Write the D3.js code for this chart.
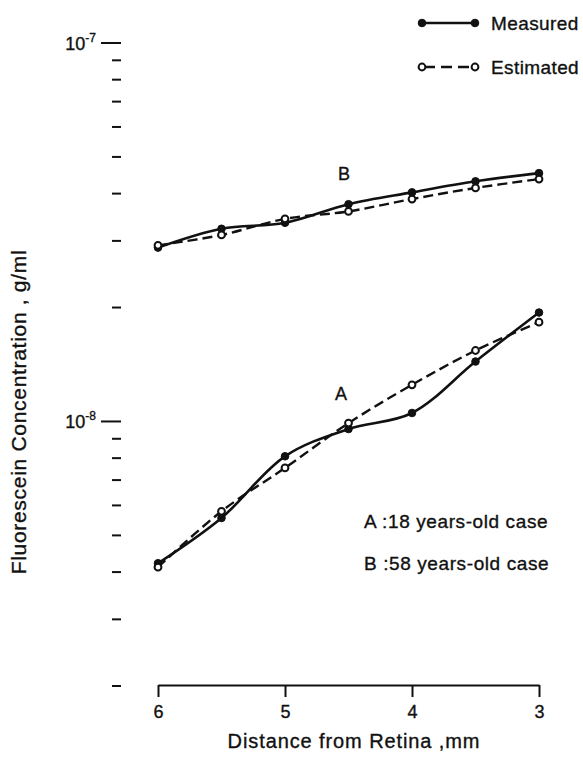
<!DOCTYPE html>
<html>
<head>
<meta charset="utf-8">
<script src="https://cdn.jsdelivr.net/npm/d3@7"></script>
<style>
  body { margin: 0; background: #fff; }
  text { font-family: "Liberation Sans", Arial, Helvetica, sans-serif; fill: #111; stroke: #111; stroke-width: 0.35px; }
</style>
</head>
<body>
<script>
// distance from retina (mm)
var distances = [6, 5.5, 5, 4.5, 4, 3.5, 3];

// case A : 18 years-old
var measuredA = [4.22e-9, 5.56e-9, 8.09e-9, 9.55e-9, 1.053e-8, 1.44e-8, 1.94e-8];
var estimatedA = [4.12e-9, 5.79e-9, 7.54e-9, 9.9e-9, 1.25e-8, 1.54e-8, 1.83e-8];

// case B : 58 years-old
var measuredB = [2.88e-8, 3.23e-8, 3.35e-8, 3.75e-8, 4.03e-8, 4.31e-8, 4.53e-8];
var estimatedB = [2.92e-8, 3.11e-8, 3.43e-8, 3.59e-8, 3.87e-8, 4.14e-8, 4.37e-8];

var xTicks = [6, 5, 4, 3];
var majorTicks = [1e-8, 1e-7];
var majorLabels = ["-8", "-7"];
var minorTicks = [2e-9, 3e-9, 4e-9, 5e-9, 6e-9, 7e-9, 8e-9, 9e-9,
                  2e-8, 3e-8, 4e-8, 5e-8, 6e-8, 7e-8, 8e-8, 9e-8];

var width = 583, height = 758;

var svg = d3.select("body").append("svg")
   .attr("width", width)
   .attr("height", height);

var x = d3.scaleLinear().domain([6, 3]).range([158, 539]);
var y = d3.scaleLog().domain([2e-9, 1e-7]).range([686, 43]);

// x axis
var xAxis = d3.axisBottom(x)
   .tickValues(xTicks)
   .tickFormat(d3.format("d"))
   .tickSize(12)
   .tickSizeOuter(0)
   .tickPadding(8);

var gx = svg.append("g")
   .attr("transform", "translate(0,685)")
   .call(xAxis);
gx.select(".domain").attr("stroke", "#111").attr("stroke-width", 2);
gx.selectAll(".tick line").attr("stroke", "#111").attr("stroke-width", 2);
gx.selectAll(".tick text")
   .style("font-size", "18px")
   .attr("fill", "#111")
   .style("font-family", "Liberation Sans, Arial, sans-serif");

// y axis : ticks only, no line
var gy = svg.append("g").attr("transform", "translate(121,0)");

gy.selectAll(".minor")
   .data(minorTicks)
   .enter().append("line")
   .attr("class", "minor")
   .attr("x1", -9).attr("x2", 0)
   .attr("y1", function(d) { return y(d); })
   .attr("y2", function(d) { return y(d); })
   .attr("stroke", "#111")
   .attr("stroke-width", 2);

gy.selectAll(".major")
   .data(majorTicks)
   .enter().append("line")
   .attr("class", "major")
   .attr("x1", -20).attr("x2", 0)
   .attr("y1", function(d) { return y(d); })
   .attr("y2", function(d) { return y(d); })
   .attr("stroke", "#111")
   .attr("stroke-width", 2);

var lab = gy.selectAll(".lab")
   .data(majorTicks)
   .enter().append("text")
   .attr("class", "lab")
   .attr("x", -25)
   .attr("y", function(d) { return y(d) + 7; })
   .attr("text-anchor", "end")
   .style("font-size", "18px");
lab.append("tspan").text("10");
lab.append("tspan")
   .attr("dy", -8)
   .style("font-size", "12px")
   .text(function(d, i) { return majorLabels[i]; });

// axis titles
svg.append("text")
   .attr("x", 354)
   .attr("y", 748)
   .attr("text-anchor", "middle")
   .style("font-size", "20px")
   .style("letter-spacing", "0.9px")
   .text("Distance from Retina ,mm");

svg.append("text")
   .attr("transform", "translate(26,412) rotate(-90)")
   .attr("text-anchor", "middle")
   .style("font-size", "21px")
   .style("letter-spacing", "0.7px")
   .text("Fluorescein Concentration , g/ml");

// curves
function pts(vals) {
   return vals.map(function(v, i) { return { d: distances[i], v: v }; });
}

var line = d3.line()
   .x(function(p) { return x(p.d); })
   .y(function(p) { return y(p.v); })
   .curve(d3.curveCatmullRom.alpha(0.5));

var series = [
   { vals: measuredA, dash: null, filled: true },
   { vals: estimatedA, dash: "10,5", filled: false },
   { vals: measuredB, dash: null, filled: true },
   { vals: estimatedB, dash: "10,5", filled: false }
];

series.forEach(function(s) {
   svg.append("path")
      .datum(pts(s.vals))
      .attr("d", line)
      .attr("fill", "none")
      .attr("stroke", "#111")
      .attr("stroke-width", s.filled ? 2.6 : 2.4)
      .attr("stroke-dasharray", s.dash);
});

series.forEach(function(s) {
   svg.append("g").selectAll("circle")
      .data(pts(s.vals))
      .enter().append("circle")
      .attr("cx", function(p) { return x(p.d); })
      .attr("cy", function(p) { return y(p.v); })
      .attr("r", s.filled ? 3.8 : 3.4)
      .attr("fill", s.filled ? "#111" : "#fff")
      .attr("stroke", "#111")
      .attr("stroke-width", s.filled ? 1 : 2);
});

// curve labels
svg.append("text").attr("x", 338).attr("y", 180)
   .style("font-size", "18px").text("B");
svg.append("text").attr("x", 335).attr("y", 400)
   .style("font-size", "18px").text("A");

// legend
var legend = [
   { label: "Measured", dash: null, filled: true, y: 23 },
   { label: "Estimated", dash: "11,6", filled: false, y: 67 }
];

legend.forEach(function(l) {
   var g = svg.append("g");
   g.append("line")
      .attr("x1", 424).attr("x2", 475)
      .attr("y1", l.y).attr("y2", l.y)
      .attr("stroke", "#111")
      .attr("stroke-width", 2.4)
      .attr("stroke-dasharray", l.dash);
   g.selectAll("circle")
      .data([422, 475])
      .enter().append("circle")
      .attr("cx", function(d) { return d; })
      .attr("cy", l.y)
      .attr("r", l.filled ? 3.8 : 3.4)
      .attr("fill", l.filled ? "#111" : "#fff")
      .attr("stroke", "#111")
      .attr("stroke-width", l.filled ? 1 : 2);
   g.append("text")
      .attr("x", 491)
      .attr("y", l.y + 7)
      .style("font-size", "19px")
      .style("letter-spacing", "0.4px")
      .text(l.label);
});

// case notes
var notes = ["A :18 years-old case", "B :58 years-old case"];
svg.selectAll(".note")
   .data(notes)
   .enter().append("text")
   .attr("class", "note")
   .attr("x", 364)
   .attr("y", function(d, i) { return i === 0 ? 528 : 570; })
   .style("font-size", "19px")
   .style("letter-spacing", "0.6px")
   .text(function(d) { return d; });
</script>
</body>
</html>
